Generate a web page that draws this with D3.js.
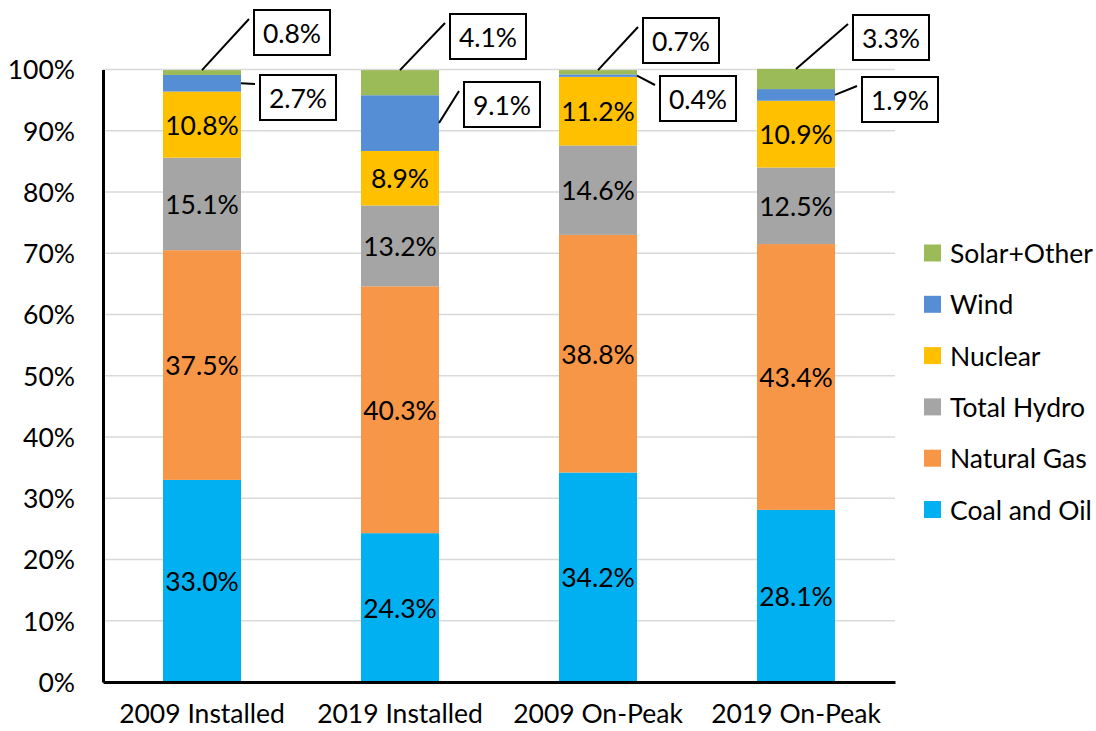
<!DOCTYPE html>
<html>
<head>
<meta charset="utf-8">
<script src="https://cdn.jsdelivr.net/npm/d3@7"></script>
<style>
  html, body { margin: 0; padding: 0; background: #fff; }
  svg text { font-family: Lato, "Open Sans", sans-serif; fill: #000; }
</style>
</head>
<body>
<svg id="chart" width="1096" height="731"></svg>
<script>
// Capacity mix by source, percent of total
const categories = ["2009 Installed", "2019 Installed", "2009 On-Peak", "2019 On-Peak"];
const seriesNames = ["Coal and Oil", "Natural Gas", "Total Hydro", "Nuclear", "Wind", "Solar+Other"];
const coalOil     = [33.0, 24.3, 34.2, 28.1];
const naturalGas  = [37.5, 40.3, 38.8, 43.4];
const totalHydro  = [15.1, 13.2, 14.6, 12.5];
const nuclear     = [10.8,  8.9, 11.2, 10.9];
const wind        = [ 2.7,  9.1,  0.4,  1.9];
const solarOther  = [ 0.8,  4.1,  0.7,  3.3];
const yTicks = [0, 10, 20, 30, 40, 50, 60, 70, 80, 90, 100];

const colors = {
  "Coal and Oil": "#00B0F0",
  "Natural Gas": "#F79646",
  "Total Hydro": "#A5A5A5",
  "Nuclear": "#FFC000",
  "Wind": "#558ED5",
  "Solar+Other": "#9BBB59"
};

const seriesValues = [coalOil, naturalGas, totalHydro, nuclear, wind, solarOther];
const rows = categories.map((c, i) => {
  const r = { category: c };
  seriesNames.forEach((s, k) => { r[s] = seriesValues[k][i]; });
  return r;
});

const svg = d3.select("#chart");
const margin = { left: 103, right: 201, top: 69.5, bottom: 49 };
const W = 1096, H = 731;

const x = d3.scaleBand().domain(categories)
  .range([margin.left, W - margin.right]).paddingInner(0.606).paddingOuter(0.303);
const y = d3.scaleLinear().domain([0, 100]).range([H - margin.bottom, margin.top]);

const fontSize = 26.5;

// gridlines
svg.append("g").selectAll("line").data(yTicks.filter(d => d > 0)).join("line")
  .attr("x1", margin.left).attr("x2", W - margin.right)
  .attr("y1", d => y(d)).attr("y2", d => y(d))
  .attr("stroke", "#d9d9d9").attr("stroke-width", 1.5);

// stacked bars
const stack = d3.stack().keys(seriesNames)(rows);
const layers = svg.append("g").selectAll("g").data(stack).join("g")
  .attr("fill", d => colors[d.key]);
layers.selectAll("rect").data(d => d).join("rect")
  .attr("x", d => x(d.data.category))
  .attr("width", x.bandwidth())
  .attr("y", d => y(d[1]))
  .attr("height", d => y(d[0]) - y(d[1]));

// in-bar labels for the four larger series
const inside = ["Coal and Oil", "Natural Gas", "Total Hydro", "Nuclear"];
stack.filter(s => inside.includes(s.key)).forEach(s => {
  svg.append("g").selectAll("text").data(s).join("text")
    .attr("x", d => x(d.data.category) + x.bandwidth() / 2)
    .attr("y", d => y((d[0] + d[1]) / 2))
    .attr("text-anchor", "middle").attr("dominant-baseline", "central")
    .attr("font-size", fontSize)
    .text(d => (d[1] - d[0]).toFixed(1) + "%");
});

// axes
const yAxis = d3.axisLeft(y).tickValues(yTicks).tickSize(0).tickPadding(28).tickFormat(d => d + "%");
const gy = svg.append("g").attr("transform", `translate(${margin.left},0)`).call(yAxis);
gy.select(".domain").attr("stroke", "#000").attr("stroke-width", 3);
gy.selectAll("text").attr("font-size", fontSize).attr("font-family", "Lato, sans-serif")
  .attr("dy", "0.35em").attr("fill", "#000");

const xAxis = d3.axisBottom(x).tickSize(0).tickPadding(22);
const gx = svg.append("g").attr("transform", `translate(0,${y(0)})`).call(xAxis);
gx.select(".domain").attr("stroke", "#000").attr("stroke-width", 3);
gx.selectAll("text").attr("font-size", fontSize).attr("font-family", "Lato, sans-serif").attr("fill", "#000");

// callouts for the thin top segments: box offset from bar centre and box top
const solarCallout = [{ dx: 52, top: 10 }, { dx: 50, top: 14 }, { dx: 45, top: 18 }, { dx: 57, top: 15 }];
const windCallout  = [{ dx: 58, top: 75 }, { dx: 64, top: 82 }, { dx: 62, top: 76 }, { dx: 66, top: 77 }];
const boxW = 76, boxH = 45;

function callout(series, layout, anchorFn) {
  const g = svg.append("g");
  series.forEach((d, i) => {
    const cx = x(d.data.category) + x.bandwidth() / 2;
    const [ax, ay] = anchorFn(d, cx);
    const bx = cx + layout[i].dx, by = layout[i].top;
    g.append("line")
      .attr("x1", ax).attr("y1", ay)
      .attr("x2", bx - 5).attr("y2", by + 9)
      .attr("stroke", "#000").attr("stroke-width", 2);
    g.append("rect")
      .attr("x", bx).attr("y", by).attr("width", boxW).attr("height", boxH)
      .attr("fill", "#fff").attr("stroke", "#000").attr("stroke-width", 2);
    g.append("text")
      .attr("x", bx + boxW / 2).attr("y", by + boxH / 2)
      .attr("text-anchor", "middle").attr("dominant-baseline", "central")
      .attr("font-size", fontSize)
      .text((d[1] - d[0]).toFixed(1) + "%");
  });
}
const solarStack = stack.find(s => s.key === "Solar+Other");
const windStack = stack.find(s => s.key === "Wind");
callout(solarStack, solarCallout, (d, cx) => [cx, y(d[1])]);
callout(windStack, windCallout, (d, cx) => [cx + x.bandwidth() / 2, y((d[0] + d[1]) / 2)]);

// legend
const legendOrder = seriesNames.slice().reverse();
const lg = svg.append("g").attr("transform", "translate(924,253)");
const item = lg.selectAll("g").data(legendOrder).join("g")
  .attr("transform", (d, i) => `translate(0,${i * 51.3})`);
item.append("rect").attr("x", 0).attr("y", -8.5).attr("width", 17).attr("height", 17)
  .attr("fill", d => colors[d]);
item.append("text").attr("x", 26).attr("y", 0).attr("dominant-baseline", "central")
  .attr("font-size", fontSize).text(d => d);
</script>
</body>
</html>
